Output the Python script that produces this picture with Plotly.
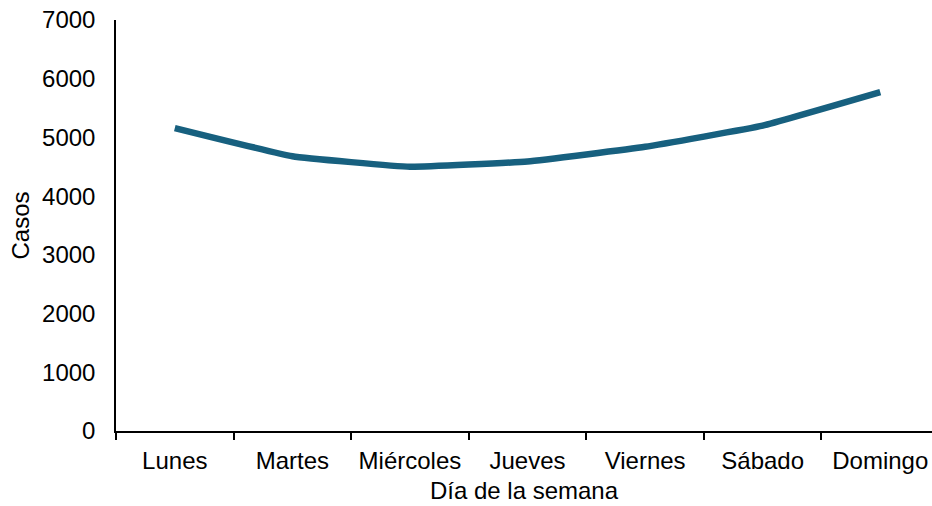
import plotly.graph_objects as go

# Casos por día de la semana
dias = ["Lunes", "Martes", "Miércoles", "Jueves", "Viernes", "Sábado", "Domingo"]
casos = [5160, 4680, 4500, 4590, 4840, 5200, 5770]
y_ticks = [0, 1000, 2000, 3000, 4000, 5000, 6000, 7000]

FONT = "Liberation Sans, Arial, sans-serif"
LINE_COLOR = "#17607f"

fig = go.Figure(
    go.Scatter(
        x=dias,
        y=casos,
        mode="lines",
        line=dict(color=LINE_COLOR, width=6.5, shape="spline", smoothing=0.3),
        hoverinfo="x+y",
    )
)

fig.update_layout(
    width=932,
    height=506,
    margin=dict(l=116, r=0, t=20, b=75),
    paper_bgcolor="white",
    plot_bgcolor="white",
    font=dict(family=FONT, size=24, color="black"),
    showlegend=False,
)

fig.update_xaxes(
    type="category",
    range=[-0.5, 6.44],
    showline=True,
    linecolor="black",
    linewidth=1.5,
    ticks="outside",
    tickson="boundaries",
    ticklen=7,
    tickwidth=1.5,
    tickcolor="black",
    ticklabelstandoff=7,
    showgrid=False,
    zeroline=False,
    title=dict(text="Día de la semana", standoff=10, font=dict(size=24)),
)

fig.update_yaxes(
    range=[0, 7000],
    tickvals=y_ticks,
    ticktext=[str(v) for v in y_ticks],
    showline=True,
    linecolor="black",
    linewidth=1.5,
    ticks="",
    ticklabelstandoff=14,
    showgrid=False,
    zeroline=False,
    title=dict(text="Casos", standoff=6, font=dict(size=24)),
)

fig.write_html("out.html")
